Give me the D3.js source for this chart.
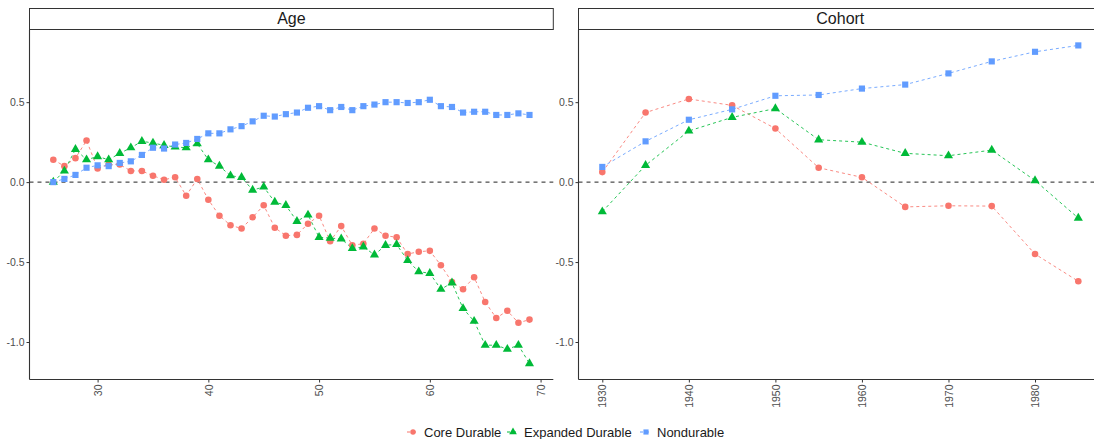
<!DOCTYPE html>
<html>

<head>
    <title>age cohort</title>
    <script src="https://d3js.org/d3.v7.min.js"></script>
</head>
<style>
    body {
        margin: 0;
        overflow: hidden;
        background: white;
    }

    svg text {
        font-family: "Liberation Sans", Arial, sans-serif;
    }
</style>

<body>
    <svg></svg>

    <script>
        const ages = [26, 27, 28, 29, 30, 31, 32, 33, 34, 35, 36, 37, 38, 39, 40, 41, 42, 43, 44, 45, 46, 47,
            48, 49, 50, 51, 52, 53, 54, 55, 56, 57, 58, 59, 60, 61, 62, 63, 64, 65, 66, 67, 68, 69];
        const coreAge = [0.14, 0.10, 0.15, 0.26, 0.085, 0.11, 0.11, 0.07, 0.07, 0.04, 0.015, 0.03, -0.085, 0.02,
            -0.11, -0.21, -0.27, -0.29, -0.22, -0.145, -0.285, -0.335, -0.33, -0.26, -0.21, -0.37, -0.275, -0.395,
            -0.385, -0.29, -0.335, -0.345, -0.45, -0.435, -0.43, -0.52, -0.625, -0.67, -0.595, -0.75, -0.85, -0.805,
            -0.88, -0.86];
        const expandedAge = [0.0, 0.07, 0.205, 0.14, 0.16, 0.14, 0.18, 0.215, 0.255, 0.245, 0.23, 0.22, 0.215, 0.24,
            0.14, 0.10, 0.04, 0.03, -0.05, -0.03, -0.125, -0.145, -0.245, -0.205, -0.345, -0.35, -0.355, -0.415,
            -0.405, -0.455, -0.395, -0.39, -0.49, -0.56, -0.57, -0.67, -0.63, -0.79, -0.87, -1.02, -1.02, -1.045,
            -1.02, -1.135];
        const nonAge = [0.0, 0.02, 0.045, 0.09, 0.105, 0.10, 0.12, 0.13, 0.17, 0.215, 0.21, 0.235, 0.245, 0.27,
            0.305, 0.305, 0.33, 0.35, 0.38, 0.415, 0.41, 0.425, 0.435, 0.465, 0.475, 0.45, 0.47, 0.45, 0.475, 0.485,
            0.50, 0.50, 0.495, 0.50, 0.515, 0.475, 0.47, 0.435, 0.44, 0.44, 0.42, 0.42, 0.43, 0.42];

        const cohorts = [1930, 1935, 1940, 1945, 1950, 1955, 1960, 1965, 1970, 1975, 1980, 1985];
        const coreCohort = [0.0625, 0.435, 0.52, 0.48, 0.335, 0.09, 0.03, -0.155, -0.148, -0.15, -0.45, -0.62];
        const expandedCohort = [-0.185, 0.105, 0.32, 0.405, 0.46, 0.265, 0.25, 0.18, 0.165, 0.20, 0.01, -0.225];
        const nonCohort = [0.095, 0.255, 0.39, 0.455, 0.54, 0.545, 0.585, 0.61, 0.68, 0.755, 0.815, 0.855];

        const seriesNames = ["Core Durable", "Expanded Durable", "Nondurable"];
        const seriesColors = ["#F8766D", "#00BA38", "#619CFF"];
        const yTicks = [-1.0, -0.5, 0.0, 0.5];
        const ageTicks = [30, 40, 50, 60, 70];
        const cohortTicks = [1930, 1940, 1950, 1960, 1970, 1980];

        const width = 1094, height = 439;
        const svg = d3.select("svg").attr("width", width).attr("height", height);

        // ggplot style 5% expansion
        function expand(ext) {
            const pad = (ext[1] - ext[0]) * 0.05;
            return [ext[0] - pad, ext[1] + pad];
        }

        const allY = coreAge.concat(expandedAge, nonAge, coreCohort, expandedCohort, nonCohort);
        const panelTop = 29.5, panelBottom = 379.5;
        const y = d3.scaleLinear().domain(expand(d3.extent(allY))).range([panelBottom, panelTop]);

        const panels = [
            { title: "Age", x0: 29.5, x1: 553.3, xs: ages, ticks: ageTicks, data: [coreAge, expandedAge, nonAge] },
            { title: "Cohort", x0: 578.5, x1: 1102.1, xs: cohorts, ticks: cohortTicks, data: [coreCohort, expandedCohort, nonCohort] }
        ];

        const symbols = [d3.symbolCircle, d3.symbolTriangle, d3.symbolSquare];
        const symbolSizes = [34, 36, 38];

        panels.forEach(p => {
            const x = d3.scaleLinear().domain(expand(d3.extent(p.xs))).range([p.x0, p.x1]);
            const g = svg.append("g");

            // strip
            g.append("rect")
                .attr("x", p.x0).attr("y", 8.5)
                .attr("width", p.x1 - p.x0).attr("height", panelTop - 8.5)
                .attr("fill", "white").attr("stroke", "#333").attr("stroke-width", 1);
            g.append("text")
                .attr("x", (p.x0 + p.x1) / 2).attr("y", 24)
                .attr("text-anchor", "middle")
                .style("font-size", "16px").attr("fill", "#1a1a1a")
                .text(p.title);

            // zero line
            g.append("line")
                .attr("x1", p.x0).attr("x2", p.x1)
                .attr("y1", y(0)).attr("y2", y(0))
                .attr("stroke", "#222").attr("stroke-width", 1)
                .attr("stroke-dasharray", "4,4");

            p.data.forEach((vals, si) => {
                const pts = p.xs.map((v, i) => [v, vals[i]]);
                g.append("path")
                    .datum(pts)
                    .attr("fill", "none")
                    .attr("stroke", seriesColors[si])
                    .attr("stroke-width", 1)
                    .attr("stroke-opacity", 0.85)
                    .attr("stroke-dasharray", "3,3")
                    .attr("d", d3.line().x(d => x(d[0])).y(d => y(d[1])));
            });
            p.data.forEach((vals, si) => {
                g.append("g").selectAll("path")
                    .data(p.xs.map((v, i) => [v, vals[i]]))
                    .enter().append("path")
                    .attr("transform", d => `translate(${x(d[0])},${y(d[1])})`)
                    .attr("d", d3.symbol().type(symbols[si]).size(symbolSizes[si]))
                    .attr("fill", seriesColors[si]);
            });

            // axes
            const yAxis = g.append("g")
                .attr("transform", `translate(${p.x0},0)`)
                .call(d3.axisLeft(y).tickValues(yTicks).tickSize(3).tickPadding(2).tickFormat(d => d.toFixed(1)));
            const xAxis = g.append("g")
                .attr("transform", `translate(0,${panelBottom})`)
                .call(d3.axisBottom(x).tickValues(p.ticks).tickSize(3).tickFormat(d => d));
            xAxis.selectAll("text")
                .attr("transform", "rotate(-90)")
                .attr("text-anchor", "end")
                .attr("x", -5).attr("y", 0).attr("dy", "0.35em");

            [yAxis, xAxis].forEach(a => {
                a.select(".domain").attr("stroke", "#333").attr("stroke-width", 1.1);
                a.selectAll(".tick line").attr("stroke", "#333");
                a.selectAll(".tick text").attr("fill", "#4d4d4d").style("font-size", "10.5px");
            });
            // axisLeft/Bottom draw end caps with tickSizeOuter; clip them to the panel
            yAxis.select(".domain").attr("d", `M0,${panelTop}V${panelBottom}`);
            xAxis.select(".domain").attr("d", `M${p.x0},0H${p.x1}`);
        });

        // legend
        const legend = svg.append("g").attr("transform", "translate(0,432)");
        const legendX = [413, 513, 646];
        seriesNames.forEach((name, i) => {
            const lg = legend.append("g").attr("transform", `translate(${legendX[i]},0)`);
            lg.append("line")
                .attr("x1", -6).attr("x2", 6)
                .attr("stroke", seriesColors[i]).attr("stroke-width", 1)
                .attr("stroke-dasharray", "3,3");
            lg.append("path")
                .attr("d", d3.symbol().type(symbols[i]).size(symbolSizes[i] * 0.7))
                .attr("fill", seriesColors[i]);
            lg.append("text")
                .attr("x", 11).attr("dy", "0.36em")
                .style("font-size", "13px").attr("fill", "#1a1a1a")
                .text(name);
        });
    </script>
</body>

</html>
